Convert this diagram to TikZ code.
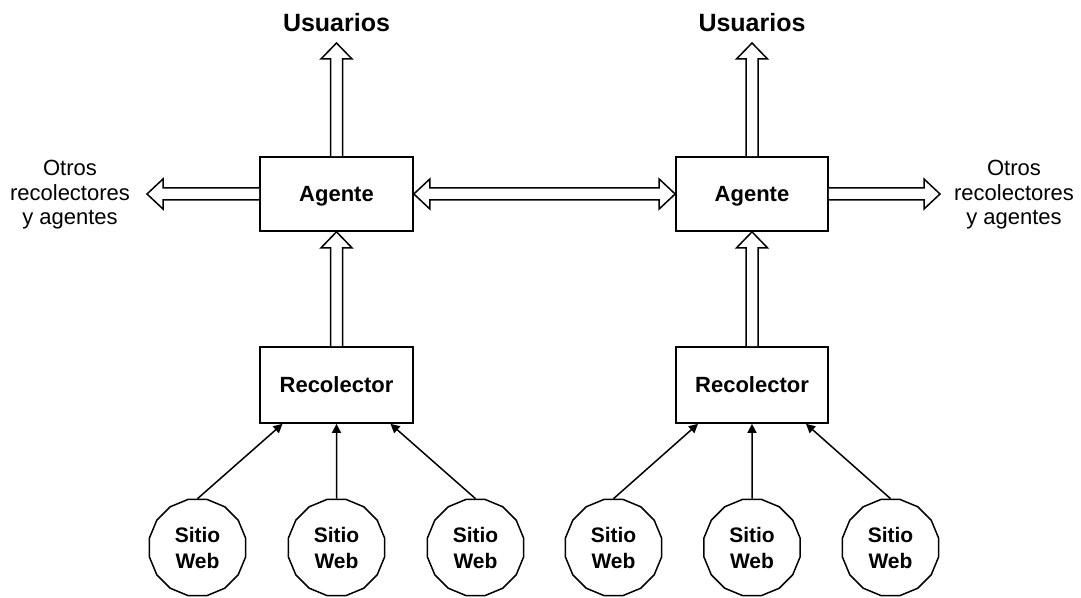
\documentclass[tikz,border=0pt]{standalone}
\usepackage{fontspec}
\setmainfont{Liberation Sans}
\usetikzlibrary{calc,shapes.geometric,arrows.meta}
\tikzset{
  boxnode/.style={draw,line width=1.7pt,minimum width=153pt,inner sep=0pt,text height=16pt,text depth=0pt,font=\bfseries\fontsize{22}{26}\selectfont},
  site/.style={draw,regular polygon,regular polygon sides=16,minimum size=98pt,inner sep=0pt,line width=1.5pt,align=center,font=\bfseries\fontsize{21}{26}\selectfont},
  hollow/.style={draw,line width=1.5pt,fill=white,line join=miter},
  thin/.style={line width=1.5pt,-{Triangle[length=9pt,width=9pt]}},
  usr/.style={anchor=base,font=\bfseries\fontsize{25}{30}\selectfont},
  otros/.style={align=center,font=\fontsize{22}{24.5}\selectfont}
}
\newcommand\arrUp[2]{\draw[hollow] let \p1=(#1),\p2=(#2) in (\x1-6pt,\y1) -- (\x1-6pt,\y2-16pt) -- (\x1-15.5pt,\y2-16pt) -- (\x1,\y2) -- (\x1+15.5pt,\y2-16pt) -- (\x1+6pt,\y2-16pt) -- (\x1+6pt,\y1);}
\newcommand\arrL[2]{\draw[hollow] let \p1=(#1),\p2=(#2) in (\x1,\y1+6pt) -- (\x2+16pt,\y1+6pt) -- (\x2+16pt,\y1+15pt) -- (\x2,\y1) -- (\x2+16pt,\y1-15pt) -- (\x2+16pt,\y1-6pt) -- (\x1,\y1-6pt);}
\newcommand\arrR[2]{\draw[hollow] let \p1=(#1),\p2=(#2) in (\x1,\y1+6pt) -- (\x2-16pt,\y1+6pt) -- (\x2-16pt,\y1+15pt) -- (\x2,\y1) -- (\x2-16pt,\y1-15pt) -- (\x2-16pt,\y1-6pt) -- (\x1,\y1-6pt);}
\newcommand\arrLR[2]{\draw[hollow] let \p1=(#1),\p2=(#2) in (\x1,\y1) -- (\x1+16pt,\y1+15pt) -- (\x1+16pt,\y1+6pt) -- (\x2-16pt,\y1+6pt) -- (\x2-16pt,\y1+15pt) -- (\x2,\y1) -- (\x2-16pt,\y1-15pt) -- (\x2-16pt,\y1-6pt) -- (\x1+16pt,\y1-6pt) -- (\x1+16pt,\y1-15pt) -- cycle;}
\begin{document}
\begin{tikzpicture}[x=1pt,y=1pt]
\useasboundingbox (0,0) rectangle (1081,597);
% agents and collectors
\node[boxnode,minimum height=74pt] (a1) at (336.5,403) {Agente};
\node[boxnode,minimum height=74pt,minimum width=152pt] (a2) at (752,403) {Agente};
\node[boxnode,minimum height=76pt] (r1) at (336.5,212) {Recolector};
\node[boxnode,minimum height=76pt,minimum width=152pt] (r2) at (752,212) {Recolector};
% users
\node[usr] (u1) at (336.5,565) {Usuarios};
\node[usr] (u2) at (752,565) {Usuarios};
\coordinate (u1tip) at (336.5,554);
\coordinate (u2tip) at (752,554);
% others
\node[otros] (o1) at (70,402) {Otros\\recolectores\\y agentes};
\node[otros] (o2) at (1014,402) {Otros\\recolectores\\y agentes};
\coordinate (o1tip) at (147,403);
\coordinate (o2tip) at (940,403);
% web sites
\foreach \n/\x in {1/197.5,2/336.5,3/475.5,4/613.5,5/752,6/890.5}
  \node[site] (s\n) at (\x,49.5) {Sitio\\Web};
% hollow arrows
\arrUp{a1.north}{u1tip}
\arrUp{a2.north}{u2tip}
\arrUp{r1.north}{a1.south}
\arrUp{r2.north}{a2.south}
\arrL{a1.west}{o1tip}
\arrR{a2.east}{o2tip}
\arrLR{a1.east}{a2.west}
% thin arrows
\draw[thin] (s1.north) -- ($(r1.south)+(-54,0)$);
\draw[thin] (s2.north) -- (r1.south);
\draw[thin] (s3.north) -- ($(r1.south)+(54,0)$);
\draw[thin] (s4.north) -- ($(r2.south)+(-54,0)$);
\draw[thin] (s5.north) -- (r2.south);
\draw[thin] (s6.north) -- ($(r2.south)+(54,0)$);
\end{tikzpicture}
\end{document}
